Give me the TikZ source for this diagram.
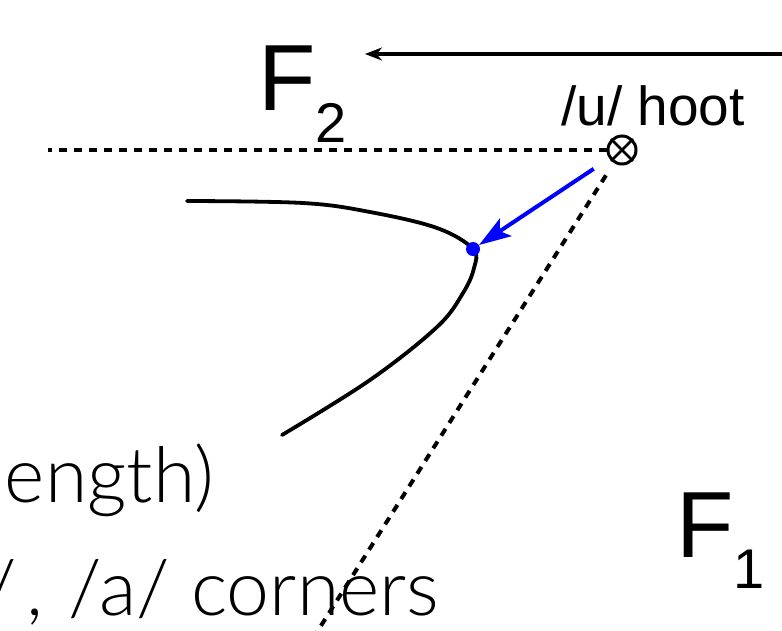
\documentclass[tikz,border=0pt]{standalone}
\usepackage{fontspec}
\setmainfont{Liberation Sans}
\newfontfamily\thinfont{Lato Light}
\usepackage{xcolor}
\usepackage{tikz}
\usetikzlibrary{arrows.meta}

\tikzset{
  formant/.style={inner sep=0pt, anchor=base west, font=\fontsize{94}{94}\selectfont},
  slidetext/.style={inner sep=0pt, anchor=base east, font=\thinfont\fontsize{77}{77}\selectfont},
  dashline/.style={line width=4pt, dash pattern=on 8pt off 7pt},
}

\begin{document}
\begin{tikzpicture}[x=1pt,y=-1pt]
\useasboundingbox (0,0) rectangle (782,630);
\clip (0,0) rectangle (782,630);

% formant axes
\node[formant] (ftwo) at (258,110) {F\raisebox{-32pt}{\fontsize{56}{56}\selectfont 2}};
\node[formant] (fone) at (676,557) {F\raisebox{-31pt}{\fontsize{56}{56}\selectfont 1}};
\coordinate (arrstart) at (782,54);
\coordinate (arrend) at (365,54);
\draw[line width=3.6pt, -{Stealth[length=17pt,width=13pt]}] (arrstart) -- (arrend);

% /u/ corner
\node[draw, circle, line width=3pt, minimum size=28pt, inner sep=0pt] (uvowel) at (622,150) {};
\draw[line width=2.6pt] (uvowel.north west) -- (uvowel.south east);
\draw[line width=2.6pt] (uvowel.north east) -- (uvowel.south west);
\node[inner sep=0pt, anchor=base west, font=\fontsize{55}{55}\selectfont] (hoot) at (561,125) {/u/ hoot};

\coordinate (leftend) at (48,150);
\coordinate (bottomend) at (317,632);
\draw[dashline] (uvowel.west) -- (leftend);
\draw[dashline, shorten <=30pt] (uvowel.center) -- (bottomend);

% vowel contour
\draw[line width=3.8pt, line cap=round] plot[smooth, tension=0.6] coordinates
  {(187,201) (303,203) (370,212) (437,228) (473,249) (474,268) (463,293) (437,327) (370,380) (282,435)};
\node[circle, fill=blue, inner sep=0pt, minimum size=14pt] (target) at (473,249) {};
\draw[blue, line width=4pt, shorten <=34pt, -{Stealth[length=32pt,width=21pt,inset=7pt]}] (uvowel.center) -- (target);

% slide text, cut at the left
\node[slidetext] (lengthtxt) at (214,502) {ength)};
\node[slidetext] (cornertxt) at (439,615) {/\kern9pt,\kern5pt{} /a/ corners};
\end{tikzpicture}
\end{document}
